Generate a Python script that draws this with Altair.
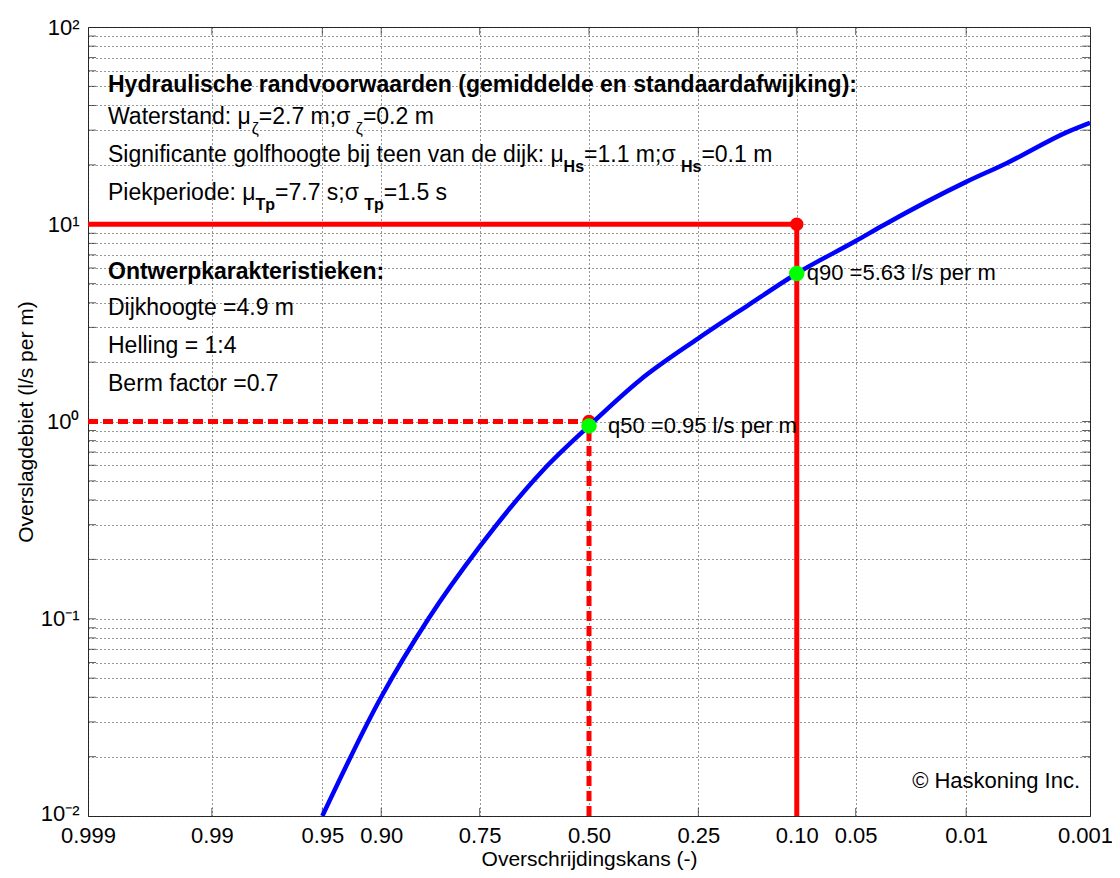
import altair as alt
import pandas as pd
from statistics import NormalDist

# ---------------- data ----------------
exceedance = [0.95, 0.90, 0.839, 0.75, 0.611, 0.50, 0.377, 0.25, 0.165,
              0.10, 0.05, 0.0347, 0.01, 0.005, 0.00156, 0.001]
discharge = [0.010, 0.0401, 0.100, 0.232, 0.568, 0.95, 1.62, 2.64, 3.85,
             5.63, 8.22, 9.89, 16.4, 20.4, 29.5, 32.7]

x_tick_p = [0.999, 0.99, 0.95, 0.90, 0.75, 0.50, 0.25, 0.10, 0.05, 0.01, 0.001]
x_tick_labels = ["0.999", "0.99", "0.95", "0.90", "0.75", "0.50", "0.25", "0.10", "0.05", "0.01", "0.001"]
y_decades = [0.01, 0.1, 1, 10, 100]
y_decade_labels = ["10\u207b\u00b2", "10\u207b\u00b9", "10\u2070", "10\u00b9", "10\u00b2"]

design_p, design_q = 0.10, 10          # criterion 10 l/s per m
median_p, median_ref_q = 0.50, 1       # reference 1 l/s per m
marker_p = [0.50, 0.10]
marker_q = [0.95, 5.63]
marker_labels = ["q50 =0.95 l/s per m", "q90 =5.63 l/s per m"]

NB = "\u00a0"
text_lines = [
    [("Hydraulische randvoorwaarden (gemiddelde en standaardafwijking):", "b")],
    [("Waterstand: \u03bc", "n"), ("\u03b6", "s"), (NB + "=2.7 m;\u03c3", "n"), ("\u03b6", "s"),
     (NB + "=0.2 m", "n")],
    [("Significante golfhoogte bij teen van de dijk: \u03bc", "n"), ("Hs", "sb"),
     (NB + "=1.1 m;\u03c3", "n"), ("Hs", "sb"), (NB + "=0.1 m", "n")],
    [("Piekperiode: \u03bc", "n"), ("Tp", "sb"), (NB + "=7.7 s;\u03c3", "n"), ("Tp", "sb"),
     (NB + "=1.5 s", "n")],
    [("Ontwerpkarakteristieken:", "b")],
    [("Dijkhoogte =4.9 m", "n")],
    [("Helling = 1:4", "n")],
    [("Berm factor =0.7", "n")],
]
copyright_text = "\u00a9 Haskoning Inc."

# ---------------- layout / style ----------------
W, H = 1002, 789
FONT = "Liberation Sans, Arial, Helvetica, sans-serif"
FS, SUB_FS, SUB_DY = 23, 16, 10
TICK_FS = 21
line_baselines_px = [65, 97, 135, 173, 252, 288, 326, 364]   # from plot top
text_left_px = 20

nd = NormalDist()
def zval(p):
    return nd.inv_cdf(1 - p)

Z_MIN, Z_MAX = zval(0.999), zval(0.001)
PXZ = W / (Z_MAX - Z_MIN)

def q_at(px):
    return 10 ** (2 - 4 * px / H)

# Arial / Liberation Sans advance widths (1/1000 em)
REG = {' ': 278, NB: 278, ':': 278, ';': 278, '.': 278, '=': 584, '(': 333, ')': 333,
       'a': 556, 'b': 556, 'c': 500, 'd': 556, 'e': 556, 'f': 278, 'g': 556, 'h': 556, 'i': 222,
       'j': 222, 'k': 500, 'l': 222, 'm': 833, 'n': 556, 'o': 556, 'p': 556, 'r': 333, 's': 500,
       't': 278, 'u': 556, 'v': 500, 'w': 722, 'P': 667, 'S': 667, 'W': 944,
       '\u03bc': 576, '\u03c3': 571, '\u03b6': 449}
BOLD = {'H': 722, 's': 556, 'T': 611, 'p': 611}

def seg_width(text, style):
    if style == "n":
        return sum(REG.get(c, 556) for c in text) * FS / 1000
    if style == "s":
        return sum(REG.get(c, 556) for c in text) * SUB_FS / 1000
    return sum(BOLD.get(c, 556) for c in text) * SUB_FS / 1000

rows = []
for line, base in zip(text_lines, line_baselines_px):
    px = text_left_px
    for text, style in line:
        rows.append({"z": Z_MIN + px / PXZ, "q": q_at(base), "text": text, "style": style})
        px += seg_width(text, style)
text_df = pd.DataFrame(rows)

qlab_df = pd.DataFrame({
    "z": [zval(marker_p[0]) + 19 / PXZ, zval(marker_p[1]) + 10 / PXZ],
    "q": marker_q, "text": marker_labels})
copy_df = pd.DataFrame({"z": [Z_MAX - 10 / PXZ], "q": [q_at(761)], "text": [copyright_text]})

# ---------------- scales / axes ----------------
xs = alt.Scale(domain=[Z_MIN, Z_MAX], nice=False, zero=False)
ys = alt.Scale(type="log", domain=[0.01, 100], nice=False)

x_tick_z = [zval(p) for p in x_tick_p]
x_expr = "".join(f"abs(datum.value - ({zv:.6f})) < 0.001 ? '{lab}' : "
                 for zv, lab in zip(x_tick_z, x_tick_labels)) + "''"
y_grid = sorted(set(round(k * 10.0 ** e, 10) for e in range(-2, 2) for k in range(1, 10))) + [100.0]
y_expr = "".join(f"abs(datum.value - {v}) < {v * 1e-6} ? '{lab}' : "
                 for v, lab in zip(y_decades, y_decade_labels)) + "''"

GRID = dict(grid=True, gridDash=[1, 3], gridColor="#333333", gridWidth=1, ticks=False, tickSize=0,
            domain=False, labelFont=FONT, labelFontSize=TICK_FS + 1, labelColor="#000",
            titleFont=FONT, titleFontSize=TICK_FS, titleFontWeight="normal", titleColor="#000",
            labelFlush=False, labelOverlap=False, labelBound=False)

x_axis = alt.Axis(values=x_tick_z, labelExpr=x_expr, title="Overschrijdingskans (-)",
                  labelBaseline="alphabetic", labelPadding=26, titleY=49,
                  labelOffset={"condition": {"test": "datum.value > 3", "value": -5}, "value": 0},
                  titleBaseline="alphabetic", **GRID)
y_axis = alt.Axis(values=y_grid, labelExpr=y_expr, title="Overslagdebiet (l/s per m)",
                  labelBaseline="middle", labelPadding=9, titleX=-56, titleY=H / 2,
                  labelOffset={"condition": {"test": "datum.value < 0.011", "value": -3}, "value": 0},
                  titleAngle=270, titleBaseline="alphabetic", **GRID)

def X(field="z"):
    return alt.X(f"{field}:Q", scale=xs, axis=x_axis)

def Y(field="q"):
    return alt.Y(f"{field}:Q", scale=ys, axis=y_axis)

# ---------------- layers ----------------
tick_y_df = pd.DataFrame({"z": [Z_MIN] * (len(y_grid) - 2) + [Z_MAX] * (len(y_grid) - 2),
                          "q": y_grid[1:-1] * 2})
tick_x_df = pd.DataFrame({"z": x_tick_z[1:-1] * 2,
                          "q": [0.01] * (len(x_tick_z) - 2) + [100] * (len(x_tick_z) - 2)})

ticks_y = alt.Chart(tick_y_df).mark_tick(orient="horizontal", size=16, thickness=1,
                                         color="#222", clip=True).encode(x=X(), y=Y())
ticks_x = alt.Chart(tick_x_df).mark_tick(orient="vertical", size=16, thickness=1,
                                         color="#222", clip=True).encode(x=X(), y=Y())

def rules(p1, p2, q1, q2, dash):
    df = pd.DataFrame({"p1": p1, "p2": p2, "q1": q1, "q2": q2})
    mk = dict(color="#ff0000", strokeWidth=5, clip=True)
    if dash:
        mk["strokeDash"] = [10, 5]
    return alt.Chart(df).mark_rule(**mk).transform_calculate(
        z1="quantileNormal(1 - datum.p1)", z2="quantileNormal(1 - datum.p2)"
    ).encode(x=X("z1"), x2="z2:Q", y=Y("q1"), y2="q2:Q")

red_solid = rules([0.999, design_p], [design_p, design_p], [design_q, 0.01], [design_q, design_q], False)
red_dash = rules([0.999, median_p], [median_p, median_p], [median_ref_q, 0.01],
                 [median_ref_q, median_ref_q], True)

def pts(p, q, color, size):
    return alt.Chart(pd.DataFrame({"p": p, "q": q})).mark_circle(
        color=color, size=size, opacity=1).transform_calculate(
        z="quantileNormal(1 - datum.p)").encode(x=X(), y=Y())

red_dots = pts([design_p, median_p], [design_q, median_ref_q], "#ff0000", 180)
green_dots = pts(marker_p, marker_q, "#00ff00", 240)

curve = alt.Chart(pd.DataFrame({"p": exceedance, "q": discharge})).mark_line(
    color="#0000ff", strokeWidth=4.5, interpolate="monotone", clip=True).transform_calculate(
    z="quantileNormal(1 - datum.p)").encode(x=X(), y=Y())

def txt(df, style=None, **mk):
    base = dict(font=FONT, color="#000", align="left", baseline="alphabetic", fontSize=FS)
    base.update(mk)
    c = alt.Chart(df)
    if style is not None:
        c = c.transform_filter(alt.datum.style == style)
    return c.mark_text(**base).encode(x=X(), y=Y(), text="text:N")

t_norm = txt(text_df, "n")
t_bold = txt(text_df, "b", fontWeight="bold")
t_sub = txt(text_df, "s", fontSize=SUB_FS, dy=SUB_DY)
t_subb = txt(text_df, "sb", fontSize=SUB_FS, dy=SUB_DY, fontWeight="bold")
t_q = txt(qlab_df, baseline="middle", fontSize=22)
t_copy = txt(copy_df, align="right", fontSize=22)

chart = alt.layer(
    ticks_y, ticks_x, red_solid, red_dash, red_dots, curve, green_dots,
    t_norm, t_bold, t_sub, t_subb, t_q, t_copy
).properties(
    width=W, height=H,
    autosize=alt.AutoSizeParams(type="none"),
    padding={"left": 80, "top": 19, "right": 22, "bottom": 54},
    background="white",
).configure_view(stroke="#222", strokeWidth=1)

chart.save("out.html", embed_options={"renderer": "svg", "actions": False})
